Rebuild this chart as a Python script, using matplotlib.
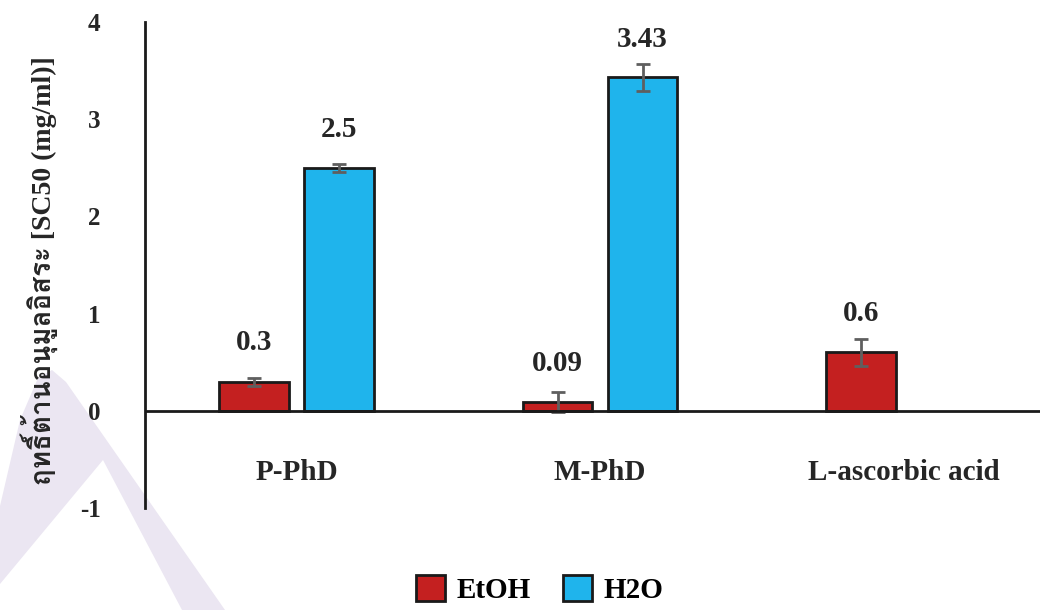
import numpy as np
import matplotlib
matplotlib.use("Agg")
import matplotlib.pyplot as plt
from matplotlib import font_manager
from matplotlib.ft2font import FT2Font
from matplotlib.patches import Polygon, Patch

# Data
categories = ["P-PhD", "M-PhD", "L-ascorbic acid"]
etoh = [0.3, 0.09, 0.6]
etoh_err = [0.04, 0.10, 0.14]
h2o = [2.5, 3.43, np.nan]
h2o_err = [0.04, 0.14, np.nan]
etoh_labels = ["0.3", "0.09", "0.6"]
h2o_labels = ["2.5", "3.43", ""]
yticks = [-1, 0, 1, 2, 3, 4]
ylabel = "ฤทธิ์ต้านอนุมูลอิสระ [SC50 (mg/ml)]"

# find a font that has Thai glyphs, fall back otherwise
thai_font = None
for f in font_manager.fontManager.ttflist:
    try:
        if 0x0E24 in FT2Font(f.fname).get_charmap():
            thai_font = f.name
            break
    except Exception:
        pass

serif = "Liberation Serif"
label_family = [serif] + ([thai_font] if thai_font else []) + ["DejaVu Sans"]

fig = plt.figure(figsize=(10.46, 6.10), dpi=100)

# faint watermark band in the background
pts = [(0, 506), (20, 420), (38, 378), (52, 370), (66, 382), (225, 610), (182, 610),
       (103, 460), (0, 584)]
fig.patches.append(Polygon([(x / 1046, 1 - y / 610) for x, y in pts], closed=True,
                           transform=fig.transFigure, facecolor="#EBE6F2",
                           edgecolor="none", zorder=-1))

ax = fig.add_axes([0.1386, 0.1672, 0.8556, 0.7967])
ax.set_facecolor("none")

x = np.arange(len(categories))
w = 0.23
off = 0.14
red = "#C42020"
blue = "#1FB4EC"

ax.bar(x - off, etoh, w, color=red, edgecolor="#1a1a1a", linewidth=2, zorder=3)
ax.bar(x + off, h2o, w, color=blue, edgecolor="#1a1a1a", linewidth=2, zorder=3)
ax.errorbar(x - off, etoh, yerr=etoh_err, fmt="none", ecolor="#5f5f5f",
            elinewidth=2, capsize=5, capthick=2, zorder=4)
ax.errorbar(x + off, h2o, yerr=h2o_err, fmt="none", ecolor="#5f5f5f",
            elinewidth=2, capsize=5, capthick=2, zorder=4)

for i in range(len(categories)):
    ax.text(x[i] - off, etoh[i] + 0.4, etoh_labels[i], ha="center", va="center",
            fontsize=21, fontweight="bold", family=serif, color="#262626")
    if h2o_labels[i]:
        ax.text(x[i] + off, h2o[i] + 0.39, h2o_labels[i], ha="center", va="center",
                fontsize=21, fontweight="bold", family=serif, color="#262626")
    ax.text(x[i], -0.63, categories[i], ha="center", va="center",
            fontsize=21, fontweight="bold", family=serif, color="#262626")

ax.axhline(0, color="#1a1a1a", linewidth=2, zorder=5)

ax.set_xlim(-0.5, 2.45)
ax.set_ylim(-1, 4)
ax.set_xticks([])
ax.set_yticks(yticks)
ax.set_yticklabels([str(t) for t in yticks], fontsize=18, fontweight="bold",
                   family=serif, color="#262626")
ax.tick_params(axis="y", length=0, pad=32)
for s in ["top", "right", "bottom"]:
    ax.spines[s].set_visible(False)
ax.spines["left"].set_linewidth(2)
ax.spines["left"].set_color("#1a1a1a")

fig.text(0.037, 0.557, ylabel, rotation=90, ha="center", va="center",
         fontsize=20, fontweight="bold", family=label_family, color="#262626")

handles = [Patch(facecolor=red, edgecolor="#1a1a1a", linewidth=2),
           Patch(facecolor=blue, edgecolor="#1a1a1a", linewidth=2)]
fig.legend(handles, ["EtOH", "H2O"], loc="center", bbox_to_anchor=(0.516, 0.033),
           ncol=2, frameon=False, handlelength=1.0, handleheight=1.0,
           columnspacing=1.1, handletextpad=0.4,
           prop={"family": serif, "weight": "bold", "size": 21})

fig.savefig("out.png", dpi=100)
